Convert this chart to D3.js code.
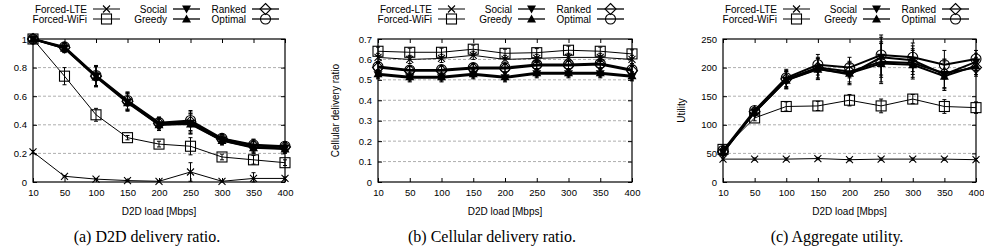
<!DOCTYPE html>
<html><head><meta charset="utf-8">
<script src="https://cdn.jsdelivr.net/npm/d3@7"></script>
<style>body{margin:0;background:#fff}svg{display:block}</style>
</head><body>
<svg id="chart" width="984" height="248"></svg>
<script>
const categories = ["10","50","100","150","200","250","300","350","400"];
const seriesNames = ["Forced-LTE","Forced-WiFi","Social","Greedy","Ranked","Optimal"];

// (a) D2D delivery ratio
const d2dLTE     = [0.21,0.04,0.02,0.01,0.005,0.07,0.005,0.025,0.025];
const d2dWiFi    = [1.0,0.74,0.47,0.31,0.265,0.25,0.175,0.155,0.135];
const d2dSocial  = [1.0,0.935,0.74,0.56,0.40,0.41,0.29,0.245,0.235];
const d2dGreedy  = [1.0,0.935,0.735,0.555,0.40,0.405,0.29,0.24,0.23];
const d2dRanked  = [1.0,0.94,0.74,0.565,0.41,0.42,0.30,0.255,0.245];
const d2dOptimal = [1.0,0.945,0.745,0.57,0.415,0.43,0.305,0.26,0.25];
const d2dErrLTE  = [0.01,0.005,0.005,0.005,0.005,0.065,0.005,0.04,0.01];
const d2dErrWiFi = [0,0.06,0.045,0.015,0.02,0.06,0.02,0.03,0.02];
const d2dErrMain = [0,0.03,0.07,0.06,0.04,0.07,0.03,0.04,0.03];

// (b) Cellular delivery ratio
const cellLTE     = [0.61,0.60,0.605,0.62,0.60,0.605,0.61,0.61,0.60];
const cellWiFi    = [0.64,0.635,0.635,0.65,0.63,0.633,0.645,0.64,0.627];
const cellSocial  = [0.525,0.51,0.51,0.525,0.51,0.53,0.53,0.53,0.515];
const cellGreedy  = [0.53,0.515,0.515,0.53,0.515,0.535,0.535,0.535,0.52];
const cellRanked  = [0.56,0.545,0.545,0.555,0.555,0.57,0.57,0.575,0.545];
const cellOptimal = [0.565,0.548,0.55,0.56,0.56,0.575,0.575,0.58,0.55];
const cellErr     = [0.02,0.02,0.02,0.02,0.02,0.02,0.02,0.02,0.02];

// (c) Aggregate utility
const utilLTE     = [40,40,40,41,39,40,40,40,39];
const utilWiFi    = [57,112,132,133,143,133,145,132,130];
const utilSocial  = [52,122,178,198,188,218,213,188,210];
const utilGreedy  = [52,122,178,197,190,207,205,185,203];
const utilRanked  = [53,123,180,200,193,210,208,190,200];
const utilOptimal = [55,125,182,205,200,222,218,205,215];
const utilErrLTE  = [2,2,2,2,2,2,2,2,2];
const utilErrWiFi = [5,5,8,8,10,12,8,12,10];
const utilErrMain = [5,5,15,18,18,35,25,25,15];

const ticksA = [0,0.2,0.4,0.6,0.8,1];
const ticksB = [0,0.1,0.2,0.3,0.4,0.5,0.6,0.7];
const ticksC = [0,50,100,150,200,250];

const panels = [
  {left:33, right:285, ymax:1, ticks:ticksA, ylabel:null, caption:"(a) D2D delivery ratio.", capx:147,
   series:[d2dLTE,d2dWiFi,d2dSocial,d2dGreedy,d2dRanked,d2dOptimal],
   errs:[d2dErrLTE,d2dErrWiFi,d2dErrMain,d2dErrMain,d2dErrMain,d2dErrMain]},
  {left:378, right:632, ymax:0.7, ticks:ticksB, ylabel:"Cellular delivery ratio", ylx:339, caption:"(b) Cellular delivery ratio.", capx:492,
   series:[cellLTE,cellWiFi,cellSocial,cellGreedy,cellRanked,cellOptimal],
   errs:[cellErr,cellErr,cellErr,cellErr,cellErr,cellErr]},
  {left:723, right:976, ymax:250, ticks:ticksC, ylabel:"Utility", ylx:685, caption:"(c) Aggregate utility.", capx:837,
   series:[utilLTE,utilWiFi,utilSocial,utilGreedy,utilRanked,utilOptimal],
   errs:[utilErrLTE,utilErrWiFi,utilErrMain,utilErrMain,utilErrMain,utilErrMain]}
];

const plotTop = 39, plotBottom = 182;
const svg = d3.select("#chart");
const FONT = "Liberation Sans, Arial, Helvetica, sans-serif";

function marker(g, type, x, y) {
  const s = g.append("g").attr("transform", `translate(${x},${y})`);
  if (type === 0) {
    s.append("path").attr("d","M-3.5,-3.5L3.5,3.5M-3.5,3.5L3.5,-3.5").attr("stroke","#000").attr("stroke-width",1.1);
  } else if (type === 1) {
    s.append("rect").attr("x",-5).attr("y",-5).attr("width",10).attr("height",10).attr("fill","none").attr("stroke","#000").attr("stroke-width",1.1);
  } else if (type === 2) {
    s.append("path").attr("d","M-4.5,-3.5L4.5,-3.5L0,4.5Z").attr("fill","#000");
  } else if (type === 3) {
    s.append("path").attr("d","M-4.5,3.5L4.5,3.5L0,-4.5Z").attr("fill","#000");
  } else if (type === 4) {
    s.append("path").attr("d","M0,-5.5L5.5,0L0,5.5L-5.5,0Z").attr("fill","none").attr("stroke","#000").attr("stroke-width",1.1);
  } else {
    s.append("circle").attr("r",5).attr("fill","none").attr("stroke","#000").attr("stroke-width",1.1);
  }
}

panels.forEach(p => {
  const g = svg.append("g");
  const x = d3.scalePoint().domain(categories).range([p.left, p.right]);
  const y = d3.scaleLinear().domain([0, p.ymax]).range([plotBottom, plotTop]);

  p.ticks.forEach(t => {
    if (t > 0 && t < p.ymax - 1e-9) {
      g.append("line").attr("x1",p.left).attr("x2",p.right).attr("y1",y(t)).attr("y2",y(t))
        .attr("stroke","#999").attr("stroke-width",0.8).attr("stroke-dasharray","3,2");
    }
  });

  const ax = g.append("g").attr("transform",`translate(0,${plotBottom})`)
    .call(d3.axisBottom(x).tickSizeInner(-4).tickSizeOuter(0).tickPadding(7));
  const axT = g.append("g").attr("transform",`translate(0,${plotTop})`)
    .call(d3.axisTop(x).tickSizeInner(-4).tickSizeOuter(0).tickFormat(""));
  const ay = g.append("g").attr("transform",`translate(${p.left},0)`)
    .call(d3.axisLeft(y).tickValues(p.ticks).tickFormat(d3.format("~g")).tickSizeInner(-4).tickSizeOuter(0).tickPadding(6));
  const ayR = g.append("g").attr("transform",`translate(${p.right},0)`)
    .call(d3.axisRight(y).tickValues(p.ticks).tickFormat("").tickSizeInner(-4).tickSizeOuter(0));
  [ax,axT,ay,ayR].forEach(a => {
    a.select(".domain").remove();
    a.selectAll("text").attr("font-family",FONT).attr("font-size",9.5).attr("fill","#000");
    a.selectAll("line").attr("stroke","#000");
  });
  g.append("rect").attr("x",p.left).attr("y",plotTop).attr("width",p.right-p.left).attr("height",plotBottom-plotTop)
    .attr("fill","none").attr("stroke","#000").attr("stroke-width",1.2);

  p.series.forEach((vals, i) => {
    const thick = i >= 2 ? 2 : 1;
    const line = d3.line().x((d,j) => x(categories[j])).y(d => y(d));
    g.append("path").datum(vals).attr("d", line).attr("fill","none").attr("stroke","#000").attr("stroke-width",thick);
    vals.forEach((v,j) => {
      const e = p.errs[i][j];
      if (e > 0) {
        const cx = x(categories[j]);
        const lo = y(Math.max(0, v - e)), hi = y(v + e);
        g.append("path").attr("d",`M${cx},${lo}L${cx},${hi}M${cx-2},${lo}L${cx+2},${lo}M${cx-2},${hi}L${cx+2},${hi}`)
          .attr("stroke","#000").attr("stroke-width",1).attr("fill","none");
      }
    });
    vals.forEach((v,j) => marker(g, i, x(categories[j]), y(v)));
  });

  const cols = [54, 134, 213];
  seriesNames.forEach((name, i) => {
    const col = Math.floor(i/2), row = i % 2;
    const tx = p.left + cols[col];
    const ly = 9 + row*10;
    g.append("text").attr("x",tx).attr("y",ly+3.5).attr("text-anchor","end")
      .attr("font-family",FONT).attr("font-size",10).text(name);
    g.append("line").attr("x1",tx+6).attr("x2",tx+33).attr("y1",ly).attr("y2",ly)
      .attr("stroke","#000").attr("stroke-width",i>=2?1.3:1);
    marker(g, i, tx+19.5, ly);
  });

  const cxm = (p.left + p.right)/2;
  g.append("text").attr("x",cxm).attr("y",215).attr("text-anchor","middle")
    .attr("font-family",FONT).attr("font-size",10).text("D2D load [Mbps]");
  if (p.ylabel) {
    g.append("text").attr("transform",`translate(${p.ylx},${(plotTop+plotBottom)/2}) rotate(-90)`)
      .attr("text-anchor","middle").attr("font-family",FONT).attr("font-size",10).text(p.ylabel);
  }
  g.append("text").attr("x",p.capx).attr("y",242).attr("text-anchor","middle")
    .attr("font-family","Liberation Serif, Times New Roman, serif").attr("font-size",16).text(p.caption);
});
</script>
</body></html>
